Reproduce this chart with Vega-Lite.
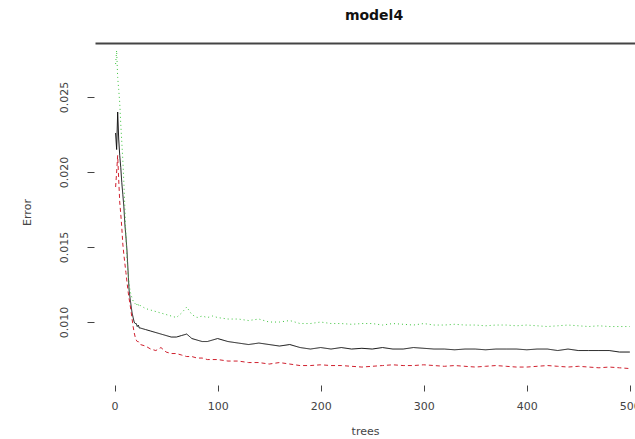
{
  "$schema": "https://vega.github.io/schema/vega-lite/v6.json",
  "autosize": {"type": "none"},
  "padding": {"left": 95, "top": 43, "right": 0, "bottom": 58},
  "width": 540,
  "height": 338,
  "title": {"text": "model4", "font": "DejaVu Sans", "fontSize": 14, "fontWeight": "bold", "color": "#111", "anchor": "middle", "dx": 9, "offset": 20},
  "config": {"view": {"stroke": null}, "axis": {"labelFont": "DejaVu Sans", "titleFont": "DejaVu Sans", "labelFontSize": 11, "titleFontSize": 11, "labelColor": "#444", "titleColor": "#444", "tickColor": "#444", "grid": false, "titleFontWeight": "normal"}},
  "datasets": {
    "err": [
      {"t":1,"s":"OOB","e":0.0226},{"t":2,"s":"OOB","e":0.0215},{"t":3,"s":"OOB","e":0.0240},{"t":4,"s":"OOB","e":0.0222},{"t":5,"s":"OOB","e":0.0211},{"t":6,"s":"OOB","e":0.0203},{"t":7,"s":"OOB","e":0.0193},{"t":8,"s":"OOB","e":0.0185},{"t":9,"s":"OOB","e":0.0177},{"t":10,"s":"OOB","e":0.0165},{"t":11,"s":"OOB","e":0.0157},{"t":12,"s":"OOB","e":0.0148},{"t":13,"s":"OOB","e":0.0135},{"t":14,"s":"OOB","e":0.0122},{"t":15,"s":"OOB","e":0.0116},{"t":16,"s":"OOB","e":0.0111},{"t":17,"s":"OOB","e":0.0106},{"t":18,"s":"OOB","e":0.0103},{"t":19,"s":"OOB","e":0.0100},{"t":20,"s":"OOB","e":0.0099},{"t":21,"s":"OOB","e":0.0099},{"t":22,"s":"OOB","e":0.0097},{"t":23,"s":"OOB","e":0.0098},{"t":24,"s":"OOB","e":0.0096},{"t":25,"s":"OOB","e":0.0096},
      {"t":30,"s":"OOB","e":0.0095},{"t":35,"s":"OOB","e":0.0094},{"t":40,"s":"OOB","e":0.0093},{"t":45,"s":"OOB","e":0.0092},{"t":50,"s":"OOB","e":0.0091},{"t":55,"s":"OOB","e":0.0090},{"t":60,"s":"OOB","e":0.0090},{"t":65,"s":"OOB","e":0.0091},{"t":70,"s":"OOB","e":0.0092},{"t":75,"s":"OOB","e":0.0089},{"t":80,"s":"OOB","e":0.0088},{"t":85,"s":"OOB","e":0.0087},{"t":90,"s":"OOB","e":0.0087},{"t":95,"s":"OOB","e":0.0088},{"t":100,"s":"OOB","e":0.0089},
      {"t":110,"s":"OOB","e":0.0087},{"t":120,"s":"OOB","e":0.0086},{"t":130,"s":"OOB","e":0.0085},{"t":140,"s":"OOB","e":0.0086},{"t":150,"s":"OOB","e":0.0085},{"t":160,"s":"OOB","e":0.0084},{"t":170,"s":"OOB","e":0.0085},{"t":180,"s":"OOB","e":0.0083},{"t":190,"s":"OOB","e":0.0082},{"t":200,"s":"OOB","e":0.0083},{"t":210,"s":"OOB","e":0.0082},{"t":220,"s":"OOB","e":0.0083},{"t":230,"s":"OOB","e":0.0082},{"t":240,"s":"OOB","e":0.00825},{"t":250,"s":"OOB","e":0.0082},{"t":260,"s":"OOB","e":0.0083},{"t":270,"s":"OOB","e":0.0082},{"t":280,"s":"OOB","e":0.0082},{"t":290,"s":"OOB","e":0.0083},{"t":300,"s":"OOB","e":0.00825},{"t":310,"s":"OOB","e":0.0082},{"t":320,"s":"OOB","e":0.0082},{"t":330,"s":"OOB","e":0.00815},{"t":340,"s":"OOB","e":0.0082},{"t":350,"s":"OOB","e":0.0082},{"t":360,"s":"OOB","e":0.00815},{"t":370,"s":"OOB","e":0.0082},{"t":380,"s":"OOB","e":0.0082},{"t":390,"s":"OOB","e":0.0082},{"t":400,"s":"OOB","e":0.00815},{"t":410,"s":"OOB","e":0.0082},{"t":420,"s":"OOB","e":0.0082},{"t":430,"s":"OOB","e":0.0081},{"t":440,"s":"OOB","e":0.0082},{"t":450,"s":"OOB","e":0.0081},{"t":460,"s":"OOB","e":0.0081},{"t":470,"s":"OOB","e":0.0081},{"t":480,"s":"OOB","e":0.0081},{"t":490,"s":"OOB","e":0.0080},{"t":500,"s":"OOB","e":0.0080},
      {"t":1,"s":"1","e":0.0190},{"t":2,"s":"1","e":0.0200},{"t":3,"s":"1","e":0.0211},{"t":4,"s":"1","e":0.0195},{"t":5,"s":"1","e":0.0180},{"t":6,"s":"1","e":0.0172},{"t":7,"s":"1","e":0.0163},{"t":8,"s":"1","e":0.0152},{"t":9,"s":"1","e":0.0145},{"t":10,"s":"1","e":0.0139},{"t":11,"s":"1","e":0.0133},{"t":12,"s":"1","e":0.0127},{"t":13,"s":"1","e":0.0121},{"t":14,"s":"1","e":0.0116},{"t":15,"s":"1","e":0.0112},{"t":16,"s":"1","e":0.0107},{"t":17,"s":"1","e":0.0102},{"t":18,"s":"1","e":0.0097},{"t":19,"s":"1","e":0.0093},{"t":20,"s":"1","e":0.0090},{"t":21,"s":"1","e":0.0088},{"t":22,"s":"1","e":0.0087},{"t":23,"s":"1","e":0.0087},{"t":24,"s":"1","e":0.0086},{"t":25,"s":"1","e":0.0085},
      {"t":30,"s":"1","e":0.0084},{"t":35,"s":"1","e":0.0082},{"t":40,"s":"1","e":0.0081},{"t":45,"s":"1","e":0.0083},{"t":50,"s":"1","e":0.0080},{"t":55,"s":"1","e":0.0079},{"t":60,"s":"1","e":0.0079},{"t":65,"s":"1","e":0.0078},{"t":70,"s":"1","e":0.0077},{"t":75,"s":"1","e":0.0077},{"t":80,"s":"1","e":0.0076},{"t":85,"s":"1","e":0.0076},{"t":90,"s":"1","e":0.0075},{"t":95,"s":"1","e":0.0075},{"t":100,"s":"1","e":0.0075},
      {"t":110,"s":"1","e":0.0074},{"t":120,"s":"1","e":0.0074},{"t":130,"s":"1","e":0.0073},{"t":140,"s":"1","e":0.0073},{"t":150,"s":"1","e":0.0072},{"t":160,"s":"1","e":0.0073},{"t":170,"s":"1","e":0.0072},{"t":180,"s":"1","e":0.0071},{"t":190,"s":"1","e":0.0071},{"t":200,"s":"1","e":0.00715},{"t":210,"s":"1","e":0.0071},{"t":220,"s":"1","e":0.0071},{"t":230,"s":"1","e":0.00705},{"t":240,"s":"1","e":0.0070},{"t":250,"s":"1","e":0.00705},{"t":260,"s":"1","e":0.0071},{"t":270,"s":"1","e":0.00715},{"t":280,"s":"1","e":0.0071},{"t":290,"s":"1","e":0.0071},{"t":300,"s":"1","e":0.00715},{"t":310,"s":"1","e":0.0071},{"t":320,"s":"1","e":0.00705},{"t":330,"s":"1","e":0.0071},{"t":340,"s":"1","e":0.00705},{"t":350,"s":"1","e":0.0070},{"t":360,"s":"1","e":0.00705},{"t":370,"s":"1","e":0.0071},{"t":380,"s":"1","e":0.00705},{"t":390,"s":"1","e":0.0070},{"t":400,"s":"1","e":0.0070},{"t":410,"s":"1","e":0.00705},{"t":420,"s":"1","e":0.0071},{"t":430,"s":"1","e":0.00705},{"t":440,"s":"1","e":0.0070},{"t":450,"s":"1","e":0.00705},{"t":460,"s":"1","e":0.0070},{"t":470,"s":"1","e":0.00695},{"t":480,"s":"1","e":0.0070},{"t":490,"s":"1","e":0.00695},{"t":500,"s":"1","e":0.0069},
      {"t":1,"s":"2","e":0.0272},{"t":2,"s":"2","e":0.0281},{"t":3,"s":"2","e":0.0263},{"t":4,"s":"2","e":0.0255},{"t":5,"s":"2","e":0.0246},{"t":6,"s":"2","e":0.0232},{"t":7,"s":"2","e":0.0220},{"t":8,"s":"2","e":0.0208},{"t":9,"s":"2","e":0.0193},{"t":10,"s":"2","e":0.0176},{"t":11,"s":"2","e":0.0158},{"t":12,"s":"2","e":0.0142},{"t":13,"s":"2","e":0.0133},{"t":14,"s":"2","e":0.0126},{"t":15,"s":"2","e":0.0121},{"t":16,"s":"2","e":0.0118},{"t":17,"s":"2","e":0.0116},{"t":18,"s":"2","e":0.0114},{"t":19,"s":"2","e":0.0113},{"t":20,"s":"2","e":0.0112},{"t":21,"s":"2","e":0.0113},{"t":22,"s":"2","e":0.0111},{"t":23,"s":"2","e":0.0112},{"t":24,"s":"2","e":0.0110},{"t":25,"s":"2","e":0.0111},
      {"t":30,"s":"2","e":0.0109},{"t":35,"s":"2","e":0.0108},{"t":40,"s":"2","e":0.0107},{"t":45,"s":"2","e":0.0106},{"t":50,"s":"2","e":0.0105},{"t":55,"s":"2","e":0.0104},{"t":60,"s":"2","e":0.0103},{"t":65,"s":"2","e":0.0106},{"t":70,"s":"2","e":0.0110},{"t":75,"s":"2","e":0.0105},{"t":80,"s":"2","e":0.0103},{"t":85,"s":"2","e":0.0104},{"t":90,"s":"2","e":0.0103},{"t":95,"s":"2","e":0.0104},{"t":100,"s":"2","e":0.0103},
      {"t":110,"s":"2","e":0.0102},{"t":120,"s":"2","e":0.0102},{"t":130,"s":"2","e":0.0101},{"t":140,"s":"2","e":0.0102},{"t":150,"s":"2","e":0.0100},{"t":160,"s":"2","e":0.0100},{"t":170,"s":"2","e":0.0101},{"t":180,"s":"2","e":0.0099},{"t":190,"s":"2","e":0.0099},{"t":200,"s":"2","e":0.0100},{"t":210,"s":"2","e":0.0099},{"t":220,"s":"2","e":0.0099},{"t":230,"s":"2","e":0.00985},{"t":240,"s":"2","e":0.0099},{"t":250,"s":"2","e":0.0099},{"t":260,"s":"2","e":0.0098},{"t":270,"s":"2","e":0.0099},{"t":280,"s":"2","e":0.00985},{"t":290,"s":"2","e":0.0098},{"t":300,"s":"2","e":0.0099},{"t":310,"s":"2","e":0.0098},{"t":320,"s":"2","e":0.0098},{"t":330,"s":"2","e":0.00985},{"t":340,"s":"2","e":0.0098},{"t":350,"s":"2","e":0.0098},{"t":360,"s":"2","e":0.00975},{"t":370,"s":"2","e":0.0098},{"t":380,"s":"2","e":0.0098},{"t":390,"s":"2","e":0.00975},{"t":400,"s":"2","e":0.0098},{"t":410,"s":"2","e":0.00975},{"t":420,"s":"2","e":0.0097},{"t":430,"s":"2","e":0.00975},{"t":440,"s":"2","e":0.0098},{"t":450,"s":"2","e":0.00975},{"t":460,"s":"2","e":0.0097},{"t":470,"s":"2","e":0.00975},{"t":480,"s":"2","e":0.0097},{"t":490,"s":"2","e":0.0097},{"t":500,"s":"2","e":0.0097}
    ]
  },
  "data": {"name": "err"},
  "layer": [
    {
      "mark": {"type": "line", "strokeWidth": 1, "interpolate": "linear"},
      "encoding": {
        "x": {"field": "t", "type": "quantitative", "scale": {"domain": [-19, 505], "nice": false, "zero": false},
              "axis": {"orient": "bottom", "title": "trees", "values": [0, 100, 200, 300, 400, 500], "domain": false, "offset": 4, "tickSize": 6, "labelPadding": 9, "titlePadding": 14, "labelFlush": false}},
        "y": {"field": "e", "type": "quantitative", "scale": {"domain": [0.00607, 0.0286], "nice": false, "zero": false},
              "axis": {"title": "Error", "values": [0.010, 0.015, 0.020, 0.025], "format": ".3f", "domain": false, "offset": 1, "tickSize": 7, "labelAngle": -90, "labelAlign": "center", "labelBaseline": "bottom", "labelPadding": 18, "titlePadding": 26}},
        "color": {"field": "s", "type": "nominal", "scale": {"domain": ["OOB", "1", "2"], "range": ["#111111", "#D0202E", "#3CC43C"]}, "legend": null},
        "strokeDash": {"field": "s", "type": "nominal", "scale": {"domain": ["OOB", "1", "2"], "range": [[1, 0], [4, 3], [1, 3]]}, "legend": null},
        "order": {"field": "t", "type": "quantitative"}
      }
    },
    {
      "mark": {"type": "point", "opacity": 0},
      "encoding": {
        "x": {"field": "t", "type": "quantitative", "axis": {"orient": "top", "labels": false, "ticks": false, "title": null, "domain": true, "domainColor": "#444", "domainWidth": 2}},
        "y": {"field": "e", "type": "quantitative"}
      }
    }
  ],
  "resolve": {"axis": {"x": "independent"}}
}
